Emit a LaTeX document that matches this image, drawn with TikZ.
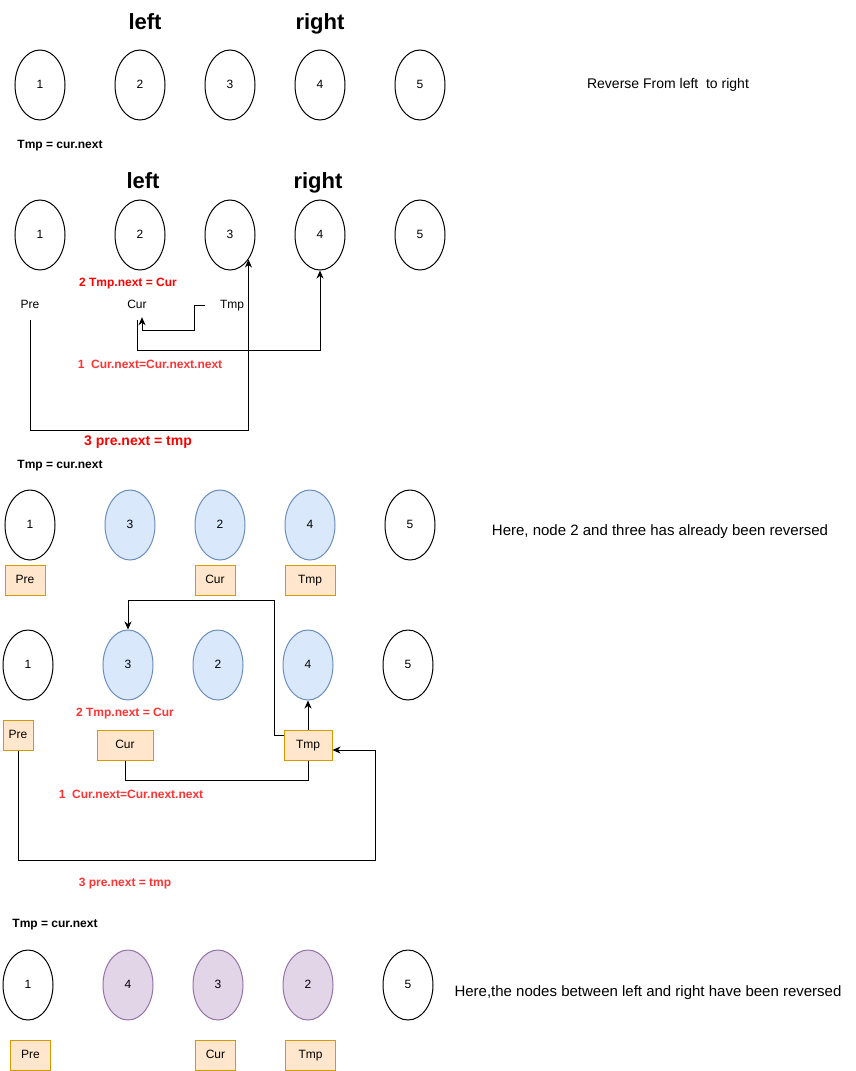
\documentclass[tikz,border=0pt]{standalone}
\usepackage{fontspec}
\setmainfont{Liberation Sans}
\usetikzlibrary{arrows.meta,shapes.geometric,calc}
\definecolor{bluefill}{HTML}{DAE8FC}
\definecolor{blueline}{HTML}{6C8EBF}
\definecolor{purpfill}{HTML}{E1D5E7}
\definecolor{purpline}{HTML}{9673A6}
\definecolor{orfill}{HTML}{FFE6CC}
\definecolor{orline}{HTML}{D79B00}
\definecolor{redA}{HTML}{FF0000}
\definecolor{redB}{HTML}{FF3333}
\newcommand{\fsz}[1]{\fontsize{#1}{#1}\selectfont}
\tikzset{
  txt12/.style={font=\fsz{12}, text height=8.6pt, text depth=2.5pt},
  lnode/.style={ellipse, draw=black, line width=1pt, minimum width=50pt, minimum height=70pt, inner sep=0pt, txt12},
  bnode/.style={lnode, draw=blueline, fill=bluefill},
  pnode/.style={lnode, draw=purpline, fill=purpfill},
  ptrbox/.style={rectangle, draw=orline, fill=orfill, line width=1pt, minimum height=30pt, inner sep=0pt, txt12},
  plain/.style={inner sep=0pt, txt12},
  big/.style={inner sep=0pt, font=\fsz{22}\bfseries, anchor=base},
  note/.style={inner sep=0pt, font=\fsz{14}, text height=10pt, text depth=3pt},
  tmpnote/.style={inner sep=0pt, txt12, font=\fsz{12}\bfseries},
  redlbl/.style={inner sep=0pt, txt12, font=\fsz{12}\bfseries, text=redB},
  ln/.style={draw=black, line width=1pt},
  arr/.style={ln, -{Stealth[length=8pt,width=7pt,inset=2.5pt]}},
}
\begin{document}
\begin{tikzpicture}[x=1pt,y=-1pt]
\useasboundingbox (0,0) rectangle (855,1071);
\fill[white] (0,0) rectangle (855,1071);

% ---------- section 1 ----------
\node[big] (left1) at (145,29) {left};
\node[big] (right1) at (320,29) {right};
\node[lnode] (n1a) at (40,85) {1};
\node[lnode] (n2a) at (140,85) {2};
\node[lnode] (n3a) at (230,85) {3};
\node[lnode] (n4a) at (320,85) {4};
\node[lnode] (n5a) at (420,85) {5};
\node[note] (rev) at (668,85) {Reverse From left\ \ to right};
\node[tmpnote] (tmpnote1) at (60,145) {Tmp = cur.next};

% ---------- section 2 ----------
\node[big] (left2) at (143,188) {left};
\node[big] (right2) at (318,188) {right};
\node[lnode] (n1b) at (40,235) {1};
\node[lnode] (n2b) at (140,235) {2};
\node[lnode] (n3b) at (230,235) {3};
\node[lnode] (n4b) at (320,235) {4};
\node[lnode] (n5b) at (420,235) {5};
\node[redlbl, text=redA] (lbl2b) at (128,283) {2 Tmp.next = Cur};
\node[plain, minimum height=30pt] (pre2) at (30,305) {Pre};
\node[plain, minimum height=24pt] (cur2) at (137,305) {Cur};
\node[plain, minimum width=54pt] (tmp2) at (232,305) {Tmp};
\node[redlbl] (lbl1b) at (150,365) {1\ \ Cur.next=Cur.next.next};
\node[redlbl, text=redA, font=\fsz{14}\bfseries] (lbl3b) at (138,442) {3 pre.next = tmp};
\node[tmpnote] (tmpnote2) at (60,465) {Tmp = cur.next};

\draw[arr] (tmp2.west) -- ++(-10,0) |- ($(cur2.south)+(5,13)$) -- ([xshift=5pt]cur2.south);
\draw[arr] ([yshift=-3pt]cur2.south) -- ++(0,30) -| (n4b.south);
\draw[arr] (pre2.south) -- ++(0,110) -| (n3b.-53);

% ---------- section 3 ----------
\node[lnode] (n1c) at (30,525) {1};
\node[bnode] (n3c) at (130,525) {3};
\node[bnode] (n2c) at (220,525) {2};
\node[bnode] (n4c) at (310,525) {4};
\node[lnode] (n5c) at (410,525) {5};
\node[ptrbox, minimum width=40pt] (pre3) at (25,580) {Pre};
\node[ptrbox, minimum width=40pt] (cur3) at (215,580) {Cur};
\node[ptrbox, minimum width=50pt] (tmp3) at (310,580) {Tmp};
\node[note, font=\fsz{15}] (here1) at (660,532) {Here, node 2 and three has already been reversed};

% ---------- section 4 ----------
\node[lnode] (n1d) at (28,665) {1};
\node[bnode] (n3d) at (128,665) {3};
\node[bnode] (n2d) at (218,665) {2};
\node[bnode] (n4d) at (308,665) {4};
\node[lnode] (n5d) at (408,665) {5};
\node[redlbl] (lbl2d) at (125,713) {2 Tmp.next = Cur};
\node[ptrbox, minimum width=30pt] (pre4) at (18,735) {Pre};
\node[ptrbox, minimum width=56pt] (cur4) at (125,745) {Cur};
\node[ptrbox, minimum width=48pt] (tmp4) at (308,745) {Tmp};
\node[redlbl] (lbl1d) at (131,795) {1\ \ Cur.next=Cur.next.next};
\node[redlbl] (lbl3d) at (125,883) {3 pre.next = tmp};
\node[tmpnote] (tmpnote3) at (55,924) {Tmp = cur.next};

\draw[arr] ([yshift=10pt]tmp4.west) -- ++(-9,0) |- ($(n3d.north)+(0,-29)$) -- (n3d.north);
\draw[arr] (tmp4.north) -- (n4d.south);
\draw[ln] (cur4.south) -- ++(0,20) -| (tmp4.south);
\draw[arr] (pre4.south) -- ++(0,110) -| ($(tmp4.east)+(43,5)$) -- ([yshift=-5pt]tmp4.east);

% ---------- section 5 ----------
\node[lnode] (n1e) at (28,985) {1};
\node[pnode] (n4e) at (128,985) {4};
\node[pnode] (n3e) at (218,985) {3};
\node[pnode] (n2e) at (308,985) {2};
\node[lnode] (n5e) at (408,985) {5};
\node[ptrbox, minimum width=40pt] (pre5) at (30.5,1055) {Pre};
\node[ptrbox, minimum width=40pt] (cur5) at (215.5,1055) {Cur};
\node[ptrbox, minimum width=50pt] (tmp5) at (310.5,1055) {Tmp};
\node[note, font=\fsz{15}] (here2) at (648,993) {Here,the nodes between left and right have been reversed};
\end{tikzpicture}
\end{document}
